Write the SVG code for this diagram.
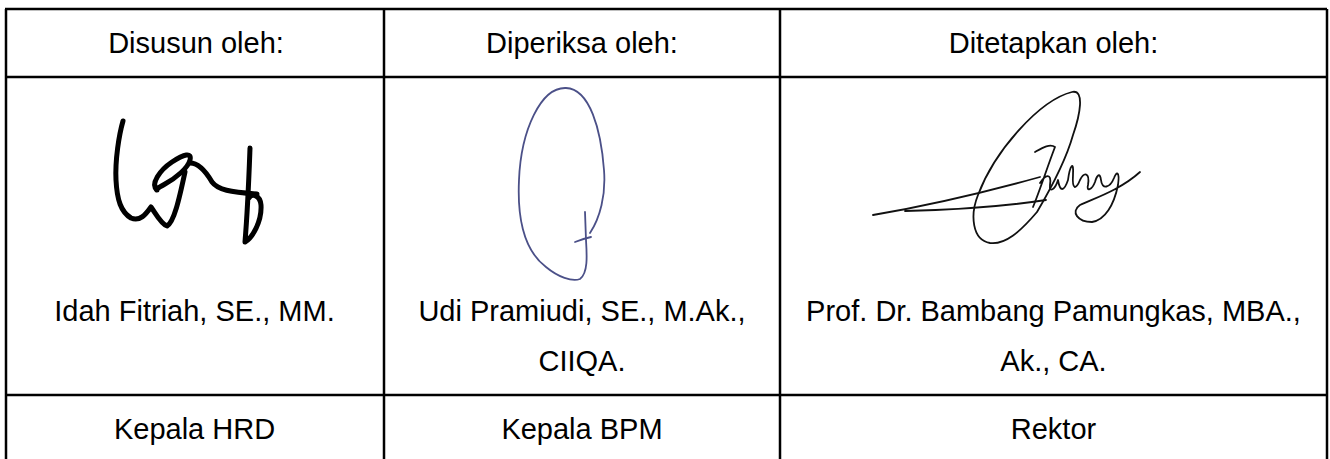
<svg xmlns="http://www.w3.org/2000/svg" width="1330" height="459" viewBox="0 0 1330 459">
<style>
.grid{stroke:#000;stroke-width:2.5;fill:none}
.t{font-family:"Liberation Sans",Arial,sans-serif;font-size:29px;fill:#000;text-anchor:middle}
.sig1{fill:none;stroke:#000;stroke-width:5;stroke-linecap:round;stroke-linejoin:round}
.sig2{fill:none;stroke:#4b5088;stroke-width:1.8;stroke-linecap:round;stroke-linejoin:round}
.sig3{fill:none;stroke:#111;stroke-width:1.8;stroke-linecap:round;stroke-linejoin:round}
</style>
<rect width="1330" height="459" fill="#fff"/>
<g id="grid">
<path class="grid" d="M5,9 H1327 M5,77 H1327 M5,395 H1327 M6,9 V459 M384,9 V459 M780,9 V459 M1327,9 V459"/>
</g>
<g id="col1">
<text class="t" x="196" y="53">Disusun oleh:</text>
<path class="sig1" d="M123,121 C119,135 115,160 116,180 C117,200 121,212 131,218 C140,222 146,214 151,207 C156,214 161,224 167,226 C174,222 179,200 185,172"/>
<path class="sig1" d="M157,190 C150,184 160,170 172,162 C184,154 192,152 190,160 C188,168 176,178 165,184 C158,188 155,190 157,190 Z"/>
<path class="sig1" d="M190,163 C198,163 205,170 212,182 C218,190 230,192 257,194"/>
<path class="sig1" d="M250,148 C249,175 248,205 245,242 C252,238 262,222 261,205 C260,195 252,193 249,198"/>
<text class="t" x="194.5" y="321">Idah Fitriah, SE., MM.</text>
<text class="t" x="194.5" y="439">Kepala HRD</text>
</g>
<g id="col2">
<text class="t" x="582" y="53">Diperiksa oleh:</text>
<path class="sig2" d="M590,233 C600,218 606,195 604,170 C601,130 590,89 566,88 C541,87 521,130 519,180 C517,222 526,252 546,267 C558,277 572,282 580,279 C588,273 587,256 586,240 L585,212"/>
<path class="sig2" d="M575,242 C580,240 586,238 591,237"/>
<text class="t" x="582" y="321">Udi Pramiudi, SE., M.Ak.,</text>
<text class="t" x="582" y="371">CIIQA.</text>
<text class="t" x="582" y="439">Kepala BPM</text>
</g>
<g id="col3">
<text class="t" x="1053.5" y="53">Ditetapkan oleh:</text>
<path class="sig3" d="M873,215 C920,207 975,195 1040,177"/>
<path class="sig3" d="M905,211 C950,210 1000,207 1046,200"/>
<path class="sig3" d="M1037,212 C1020,232 1005,245 990,243 C972,240 970,215 978,195 C995,150 1040,100 1072,92 C1085,89 1080,115 1073,135 C1066,160 1050,190 1037,212"/>
<path class="sig3" d="M1035,152 C1042,148 1050,143 1055,147 C1048,165 1040,190 1033,207 M1040,183 C1045,175 1052,172 1050,185 C1049,193 1055,190 1058,180 C1060,192 1064,192 1068,180 M1068,180 C1070,165 1074,160 1073,175 C1072,190 1076,190 1080,180 C1084,172 1090,172 1088,185 C1086,192 1092,190 1095,182 C1097,175 1100,172 1101,180 C1102,190 1110,188 1114,178 C1116,172 1120,170 1118,185 C1114,205 1105,220 1092,222 C1078,222 1070,212 1080,205 C1095,198 1120,190 1140,172"/>
<text class="t" x="1053.5" y="321">Prof. Dr. Bambang Pamungkas, MBA.,</text>
<text class="t" x="1053.5" y="371">Ak., CA.</text>
<text class="t" x="1053.5" y="439">Rektor</text>
</g>
</svg>
